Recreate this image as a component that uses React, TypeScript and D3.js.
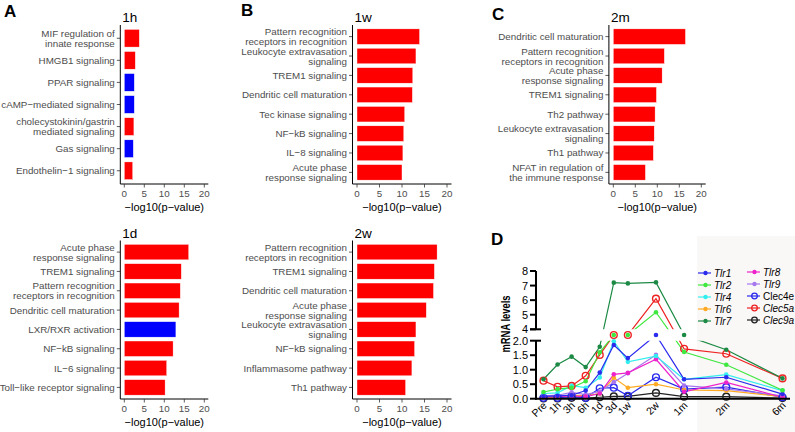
import React from "react";
import * as d3 from "d3";

// ---------- Panel A/B/C data ----------
const cats1h = ["MIF regulation of\ninnate response", "HMGB1 signaling", "PPAR signaling", "cAMP−mediated signaling", "cholecystokinin/gastrin\nmediated signaling", "Gas signaling", "Endothelin−1 signaling"];
const vals1h = [3.75, 2.75, 2.5, 2.5, 2.4, 2.25, 2.1];
const dir1h = ["up", "up", "down", "down", "up", "down", "up"];

const cats1d = ["Acute phase\nresponse signaling", "TREM1 signaling", "Pattern recognition\nreceptors in recognition", "Dendritic cell maturation", "LXR/RXR activation", "NF−kB signaling", "IL−6 signaling", "Toll−like receptor signaling"];
const vals1d = [16.1, 14.25, 14.0, 13.7, 12.9, 12.2, 10.6, 10.2];
const dir1d = ["up", "up", "up", "up", "down", "up", "up", "up"];

const cats1w = ["Pattern recognition\nreceptors in recognition", "Leukocyte extravasation\nsignaling", "TREM1 signaling", "Dendritic cell maturation", "Tec kinase signaling", "NF−kB signaling", "IL−8 signaling", "Acute phase\nresponse signaling"];
const vals1w = [13.9, 13.1, 12.4, 12.3, 10.6, 10.4, 10.2, 10.0];
const dir1w = ["up", "up", "up", "up", "up", "up", "up", "up"];

const cats2w = ["Pattern recognition\nreceptors in recognition", "TREM1 signaling", "Dendritic cell maturation", "Acute phase\nresponse signaling", "Leukocyte extravasation\nsignaling", "NF−kB signaling", "Inflammasome pathway", "Th1 pathway"];
const vals2w = [17.8, 17.2, 17.0, 15.4, 13.1, 12.8, 12.2, 10.8];
const dir2w = ["up", "up", "up", "up", "up", "up", "up", "up"];

const cats2m = ["Dendritic cell maturation", "Pattern recognition\nreceptors in recognition", "Acute phase\nresponse signaling", "TREM1 signaling", "Th2 pathway", "Leukocyte extravasation\nsignaling", "Th1 pathway", "NFAT in regulation of\nthe immune response"];
const vals2m = [16.4, 11.6, 11.1, 9.8, 9.5, 9.3, 9.1, 7.3];
const dir2m = ["up", "up", "up", "up", "up", "up", "up", "up"];

const barTicks = [0, 5, 10, 15, 20];

// ---------- Panel D data ----------
const timeLabels = ["Pre", "1h", "3h", "6h", "1d", "3d", "1w", "2w", "1m", "2m", "6m"];
const timePos = [0, 1, 2, 3, 4, 5, 6, 8, 10, 13, 17];

const tlr1 = [0.08, 0.1, 0.12, 0.28, 0.9, 1.85, 1.4, 3.0, 0.67, 0.74, 0.16];
const tlr2 = [0.23, 0.33, 0.38, 0.6, 1.6, 3.0, 3.0, 5.17, 1.61, 1.17, 0.29];
const tlr4 = [0.18, 0.2, 0.45, 0.38, 0.73, 1.98, 1.27, 1.47, 0.67, 0.83, 0.28];
const tlr6 = [0.05, 0.05, 0.12, 0.1, 0.18, 0.72, 0.38, 0.5, 0.3, 0.28, 0.07];
const tlr7 = [0.67, 1.18, 1.45, 1.09, 1.79, 7.2, 7.15, 7.22, 3.0, 1.69, 0.7];
const tlr8 = [0.06, 0.07, 0.1, 0.07, 0.18, 0.84, 0.89, 1.36, 0.24, 0.56, 0.05];
const tlr9 = [0.1, 0.12, 0.22, 0.14, 0.25, 0.57, 0.88, 1.51, 0.45, 0.34, 0.1];
const clec4e = [0.03, 0.03, 0.08, 0.03, 0.36, 0.38, 0.1, 0.74, 0.33, 0.4, 0.05];
const clec5a = [0.62, 0.41, 0.44, 0.79, 1.51, 3.0, 3.0, 6.1, 1.72, 1.55, 0.7];
const clec9a = [0.01, 0.01, 0.03, 0.02, 0.05, 0.08, 0.08, 0.2, 0.07, 0.07, 0.02];

const yTicksTop = [4, 5, 6, 7, 8];
const yTicksBottom = [0, 0.5, 1.0, 1.5, 2.0];

type Series = { name: string; values: number[]; color: string; open: boolean; italic: boolean };
const series: Series[] = [
  { name: "Clec9a", values: clec9a, color: "#222222", open: true, italic: true },
  { name: "Clec4e", values: clec4e, color: "#2a2aee", open: true, italic: false },
  { name: "Tlr6", values: tlr6, color: "#ffaa22", open: false, italic: true },
  { name: "Tlr9", values: tlr9, color: "#a777ee", open: false, italic: true },
  { name: "Tlr8", values: tlr8, color: "#ee22cc", open: false, italic: true },
  { name: "Tlr4", values: tlr4, color: "#33eeee", open: false, italic: true },
  { name: "Tlr1", values: tlr1, color: "#2b2bee", open: false, italic: true },
  { name: "Clec5a", values: clec5a, color: "#ee2222", open: true, italic: true },
  { name: "Tlr2", values: tlr2, color: "#3fe83f", open: false, italic: true },
  { name: "Tlr7", values: tlr7, color: "#1c8a45", open: false, italic: true },
];
const legendCol1 = ["Tlr1", "Tlr2", "Tlr4", "Tlr6", "Tlr7"];
const legendCol2 = ["Tlr8", "Tlr9", "Clec4e", "Clec5a", "Clec9a"];

const FONT = "'Liberation Sans', Arial, Helvetica, sans-serif";
const RED = "#ff0000";
const BLUE = "#0000ff";

type BarProps = {
  cats: string[]; vals: number[]; dirs: string[]; title: string;
  zeroX: number; ppu: number; top: number; bottom: number;
};

function BarPanel({ cats, vals, dirs, title, zeroX, ppu, top, bottom }: BarProps) {
  const x = d3.scaleLinear().domain([-1, 21]).range([zeroX - ppu, zeroX + 21 * ppu]);
  const y = d3.scaleBand<string>().domain(cats).range([top, bottom]).paddingInner(0.2).paddingOuter(0.2);
  const axisX = x(-1);
  const [x0, x1] = x.range();
  return (
    <g>
      <text x={axisX + 2} y={top - 3} fontSize={13.5} fontFamily={FONT} fill="#000">{title}</text>
      {cats.map((c, i) => (
        <rect key={c} x={x(0)} y={y(c)!} width={x(vals[i]) - x(0)} height={y.bandwidth()}
          fill={dirs[i] === "up" ? RED : BLUE} stroke="#ffffff" strokeWidth={0.4} />
      ))}
      {cats.map((c) => {
        const cy = y(c)! + y.bandwidth() / 2;
        const lines = c.split("\n");
        return (
          <g key={"l" + c}>
            <line x1={axisX - 3.5} x2={axisX} y1={cy} y2={cy} stroke="#333" strokeWidth={0.8} />
            {lines.map((ln, k) => (
              <text key={k} x={axisX - 5.5} y={cy + (k - (lines.length - 1) / 2) * 10}
                textAnchor="end" dominantBaseline="central" fontSize={9.8} fontFamily={FONT} fill="#4d4d4d">{ln}</text>
            ))}
          </g>
        );
      })}
      <line x1={axisX} x2={axisX} y1={top} y2={bottom} stroke="#000" strokeWidth={1} />
      <line x1={x0} x2={x1} y1={bottom} y2={bottom} stroke="#000" strokeWidth={1} />
      {barTicks.map((t) => (
        <g key={t}>
          <line x1={x(t)} x2={x(t)} y1={bottom} y2={bottom + 3.5} stroke="#333" strokeWidth={0.8} />
          <text x={x(t)} y={bottom + 12.5} textAnchor="middle" fontSize={9.8} fontFamily={FONT} fill="#4d4d4d">{t}</text>
        </g>
      ))}
      <text x={(x0 + x1) / 2} y={bottom + 27} textAnchor="middle" fontSize={11} fontFamily={FONT} fill="#000">−log10(p−value)</text>
    </g>
  );
}

function PanelD() {
  const x = d3.scaleLinear().domain([0, 17]).range([543.5, 782.5]);
  const y = d3.scaleLinear().domain([0, 2, 4, 8]).range([398.7, 340.7, 329.3, 271]);
  const axisX = 536;
  const line = d3.line<number>().x((_, i) => x(timePos[i])).y((v) => y(v));
  return (
    <g>
      <defs>
        <clipPath id="clipTop"><rect x={530} y={260} width={270} height={329.3 - 260} /></clipPath>
        <clipPath id="clipBot"><rect x={530} y={340.7} width={270} height={70} /></clipPath>
      </defs>
      <rect x={697} y={236} width={98} height={196} fill="#faf7f7" />
      <text x={491} y={245} fontSize={17} fontWeight="bold" fontFamily={FONT}>D</text>
      <text transform={`translate(510,324) rotate(-90)`} textAnchor="middle" fontSize={13} fontWeight="bold"
        fontFamily={FONT} textLength={57} lengthAdjust="spacingAndGlyphs">mRNA levels</text>
      {["clipTop", "clipBot"].map((cp) => (
        <g key={cp} clipPath={`url(#${cp})`}>
          {series.map((s) => (
            <path key={s.name} d={line(s.values)!} fill="none" stroke={s.color} strokeWidth={1.2} />
          ))}
        </g>
      ))}
      {series.map((s) => (
        <g key={"p" + s.name}>
          {s.values.map((v, i) =>
            s.open ? (
              <circle key={i} cx={x(timePos[i])} cy={y(v)} r={3.4} fill="none" stroke={s.color} strokeWidth={1.4} />
            ) : (
              <circle key={i} cx={x(timePos[i])} cy={y(v)} r={2.3} fill={s.color} />
            )
          )}
        </g>
      ))}
      <line x1={axisX} x2={axisX} y1={271} y2={329.3} stroke="#000" strokeWidth={2} />
      <line x1={axisX} x2={axisX} y1={340.7} y2={399.7} stroke="#000" strokeWidth={2} />
      <line x1={axisX - 1} x2={790} y1={398.7} y2={398.7} stroke="#000" strokeWidth={2} />
      <line x1={axisX - 6} x2={axisX + 5} y1={329.3} y2={329.3} stroke="#000" strokeWidth={2} />
      <line x1={axisX} x2={axisX + 5} y1={340.7} y2={340.7} stroke="#000" strokeWidth={2} />
      {yTicksTop.map((t) => (
        <g key={"t" + t}>
          <line x1={axisX - 6} x2={axisX} y1={y(t)} y2={y(t)} stroke="#000" strokeWidth={2} />
          <text x={axisX - 8} y={y(t)} textAnchor="end" dominantBaseline="central" fontSize={11} fontFamily={FONT}>{t}</text>
        </g>
      ))}
      {yTicksBottom.map((t) => (
        <g key={"b" + t}>
          <line x1={axisX - 6} x2={axisX} y1={y(t)} y2={y(t)} stroke="#000" strokeWidth={2} />
          <text x={axisX - 8} y={y(t)} textAnchor="end" dominantBaseline="central" fontSize={11} fontFamily={FONT}>{t.toFixed(1)}</text>
        </g>
      ))}
      {timeLabels.map((lab, i) => (
        <text key={lab} transform={`translate(${x(timePos[i]) + 4},${406}) rotate(-45)`} textAnchor="end"
          fontSize={10.5} fontFamily={FONT}>{lab}</text>
      ))}
      {[legendCol1, legendCol2].map((col, ci) =>
        col.map((name, ri) => {
          const s = series.find((q) => q.name === name)!;
          const lx0 = ci === 0 ? 698 : 747;
          const ly = (ci === 0 ? 273 : 272) + ri * 12;
          const mx = lx0 + 7.5;
          return (
            <g key={name}>
              <line x1={lx0} x2={lx0 + 13} y1={ly} y2={ly} stroke={s.color} strokeWidth={1.2} />
              {s.open ? (
                <circle cx={mx} cy={ly} r={2.8} fill="none" stroke={s.color} strokeWidth={1.3} />
              ) : (
                <circle cx={mx} cy={ly} r={2.2} fill={s.color} />
              )}
              <text x={lx0 + 16} y={ly} dominantBaseline="central" fontSize={10} fontFamily={FONT}
                fontStyle={s.italic ? "italic" : "normal"}>{name}</text>
            </g>
          );
        })
      )}
    </g>
  );
}

export default function App() {
  return (
    <svg width={795} height={432} viewBox="0 0 795 432"
      style={{ position: "absolute", left: 0, top: 0, display: "block", background: "#fff" }}>
      <rect width={795} height={432} fill="#fff" />
      <text x={4} y={17} fontSize={17} fontWeight="bold" fontFamily={FONT}>A</text>
      <text x={241} y={16} fontSize={17} fontWeight="bold" fontFamily={FONT}>B</text>
      <text x={492} y={20} fontSize={17} fontWeight="bold" fontFamily={FONT}>C</text>
      <BarPanel cats={cats1h} vals={vals1h} dirs={dir1h} title="1h" zeroX={124.3} ppu={4} top={25} bottom={184} />
      <BarPanel cats={cats1d} vals={vals1d} dirs={dir1d} title="1d" zeroX={124.3} ppu={4} top={240.5} bottom={399} />
      <BarPanel cats={cats1w} vals={vals1w} dirs={dir1w} title="1w" zeroX={357} ppu={4.5} top={25} bottom={184} />
      <BarPanel cats={cats2w} vals={vals2w} dirs={dir2w} title="2w" zeroX={357} ppu={4.5} top={240.5} bottom={399} />
      <BarPanel cats={cats2m} vals={vals2m} dirs={dir2m} title="2m" zeroX={613.3} ppu={4.4} top={25} bottom={184} />
      <PanelD />
    </svg>
  );
}
